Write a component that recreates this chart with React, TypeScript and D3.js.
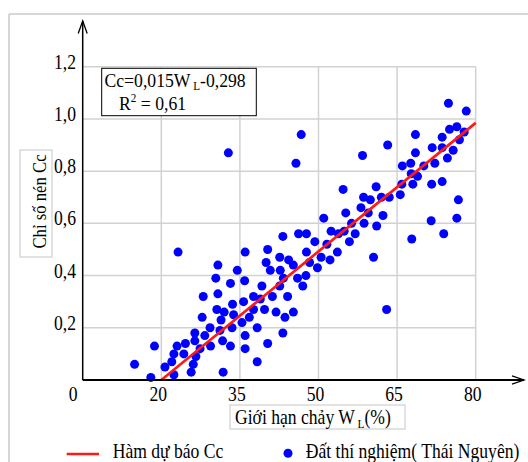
import React from "react";
import * as d3 from "d3";

const wl = [14.9,18.0,18.7,20.7,22.0,22.4,22.4,23.0,23.2,24.3,24.6,25.7,26.1,26.4,26.4,26.6,27.4,27.8,28.0,28.3,29.3,29.4,30.4,30.6,30.8,30.8,31.2,31.4,31.7,31.8,32.0,32.8,33.2,33.2,33.5,33.6,33.8,34.5,35.4,35.7,35.9,36.0,36.0,36.0,36.8,37.6,37.6,38.3,38.3,38.9,39.2,39.7,40.0,40.3,40.3,40.8,41.2,41.9,42.6,42.6,42.7,43.2,43.2,43.3,43.6,44.1,44.3,45.2,45.2,45.7,46.0,46.2,46.7,47.0,47.6,47.7,47.7,48.3,49.3,49.8,50.5,51.0,51.6,52.2,52.4,53.6,53.8,54.7,54.9,55.2,55.9,56.3,57.0,58.1,58.4,58.6,58.7,59.5,59.9,60.5,61.0,61.1,62.0,62.3,63.0,63.2,63.5,65.6,65.9,66.0,67.6,67.7,67.8,68.0,68.5,68.5,68.9,70.1,71.6,71.5,71.7,72.2,73.6,73.6,73.6,73.9,74.6,74.8,75.0,75.7,76.4,76.4,76.7,76.9,77.8,78.2];
const cc = [0.06,0.01,0.13,0.05,0.07,0.02,0.10,0.13,0.49,0.10,0.14,0.03,0.06,0.18,0.15,0.09,0.12,0.24,0.32,0.17,0.20,0.13,0.39,0.27,0.44,0.33,0.19,0.23,0.15,0.03,0.26,0.87,0.37,0.13,0.20,0.29,0.25,0.42,0.22,0.30,0.38,0.49,0.17,0.12,0.24,0.32,0.27,0.20,0.07,0.31,0.36,0.27,0.45,0.50,0.14,0.42,0.32,0.26,0.47,0.36,0.42,0.18,0.55,0.39,0.24,0.32,0.46,0.44,0.26,0.83,0.39,0.56,0.94,0.36,0.40,0.56,0.49,0.45,0.53,0.43,0.47,0.62,0.52,0.46,0.57,0.49,0.56,0.73,0.57,0.64,0.53,0.60,0.56,0.66,0.86,0.70,0.60,0.64,0.69,0.47,0.74,0.59,0.70,0.63,0.27,0.90,0.70,0.71,0.75,0.82,0.83,0.79,0.54,0.75,0.94,0.87,0.78,0.82,0.75,0.61,0.89,0.83,0.93,0.89,0.76,0.56,0.85,1.06,0.96,0.88,0.97,0.62,0.69,0.92,0.95,1.03];

const lineWL = [20, 80];
const lineCc = [0.0, 0.985];

const xTicks = [5, 20, 35, 50, 65, 80];
const xTickLabels = ["0", "20", "35", "50", "65", "80"];
const yTicks = [0.2, 0.4, 0.6, 0.8, 1.0, 1.2];
const yTickLabels = ["0,2", "0,4", "0,6", "0,8", "1,0", "1,2"];

const FONT = "'Liberation Serif', 'Times New Roman', serif";
const SX = 0.88;

function T({ x, y, anchor = "start", size = 20, sx = SX, rotate = 0, children }: any) {
  return (
    <text
      transform={`translate(${x},${y})${rotate ? ` rotate(${rotate})` : ""} scale(${sx},1)`}
      textAnchor={anchor}
      fontSize={size}
      fontFamily={FONT}
      fill="#000"
    >
      {children}
    </text>
  );
}

export default function App() {
  const x = d3.scaleLinear().domain([5, 80]).range([82.7, 475.7]);
  const y = d3.scaleLinear().domain([0, 1.2]).range([380, 66.7]);
  const pts = wl.map((w, i) => [w, cc[i]]);
  const linePts = lineWL.map((w, i) => [w, lineCc[i]] as [number, number]);
  const line = d3
    .line<[number, number]>()
    .x((d) => x(d[0]))
    .y((d) => y(d[1]));
  const grid = "#d2d2d2";
  const x0 = x(5);
  const y0 = y(0);

  return (
    <svg
      width={528}
      height={462}
      style={{ position: "absolute", left: 0, top: 0, background: "#fff" }}
    >
      <rect x={0} y={0} width={528} height={462} fill="#fff" />
      {/* outer frame */}
      <line x1={9} y1={14} x2={528} y2={14} stroke="#c8c8c8" strokeWidth={1.5} />
      <line x1={9} y1={14} x2={9} y2={462} stroke="#c8c8c8" strokeWidth={1.5} />

      {/* grid */}
      {yTicks.map((t) => (
        <line key={"gy" + t} x1={x0} x2={x(80)} y1={y(t)} y2={y(t)} stroke={grid} strokeWidth={1.5} />
      ))}
      {xTicks.filter((t) => t > 5).map((t) => (
        <line key={"gx" + t} x1={x(t)} x2={x(t)} y1={y(1.2)} y2={y0} stroke={grid} strokeWidth={1.5} />
      ))}

      {/* points */}
      {pts.map((p, i) => (
        <circle key={i} cx={x(p[0])} cy={y(p[1])} r={4.5} fill="#0000ff" />
      ))}

      {/* regression */}
      <path d={line(linePts) || ""} stroke="#ff1a1a" strokeWidth={2.7} fill="none" />

      {/* axes */}
      <line x1={x0} y1={y0} x2={x0} y2={21} stroke="#000" strokeWidth={1.5} />
      <polyline points={`${x0 - 4.5},33.5 ${x0},21 ${x0 + 4.5},33.5`} fill="none" stroke="#000" strokeWidth={1.3} />
      <line x1={x0} y1={y0} x2={524} y2={y0} stroke="#000" strokeWidth={1.8} />
      <polyline points={`512,375.8 524,${y0} 512,384.2`} fill="none" stroke="#000" strokeWidth={1.3} />

      {/* tick labels */}
      {yTicks.map((t, i) => (
        <T key={"ty" + t} x={76} y={y(t) + 2} anchor="end">
          {yTickLabels[i]}
        </T>
      ))}
      {xTicks.map((t, i) => (
        <T key={"tx" + t} x={x(t) + (t === 5 ? -9.5 : -3)} y={401} anchor="middle">
          {xTickLabels[i]}
        </T>
      ))}

      {/* equation box */}
      <rect x={101.7} y={68.3} width={154.6} height={47.4} fill="#fff" stroke="#000" strokeWidth={1} />
      <T x={104.5} y={87} size={19} sx={0.93}>
        Cc=0,015W<tspan fontSize={12} dx={3} dy={3}>L</tspan>
        <tspan dy={-3}>-0,298</tspan>
      </T>
      <T x={119} y={109.5} size={19} sx={0.93}>
        R<tspan fontSize={12} dy={-8}>2</tspan>
        <tspan dy={8}> = 0,61</tspan>
      </T>

      {/* y axis title */}
      <rect x={20} y={150} width={32} height={107} fill="#fff" stroke="#cfcfcf" strokeWidth={1.2} />
      <T x={46} y={201.5} anchor="middle" rotate={-90} size={19}>
        Chỉ số nén Cc
      </T>

      {/* x axis title */}
      <rect x={230} y={405} width={175} height={24} fill="#fff" stroke="#cfcfcf" strokeWidth={1.2} />
      <T x={235} y={424}>
        Giới hạn chảy W<tspan fontSize={13} dx={3} dy={4}>L</tspan>
        <tspan dy={-4}>(%)</tspan>
      </T>

      {/* legend */}
      <line x1={66.7} x2={99} y1={454} y2={454} stroke="#ff1a1a" strokeWidth={2.7} />
      <T x={112.7} y={458}>Hàm dự báo Cc</T>
      <circle cx={288} cy={453.3} r={4.5} fill="#0000ff" />
      <T x={305.7} y={458}>Đất thí nghiệm( Thái Nguyên)</T>
    </svg>
  );
}
